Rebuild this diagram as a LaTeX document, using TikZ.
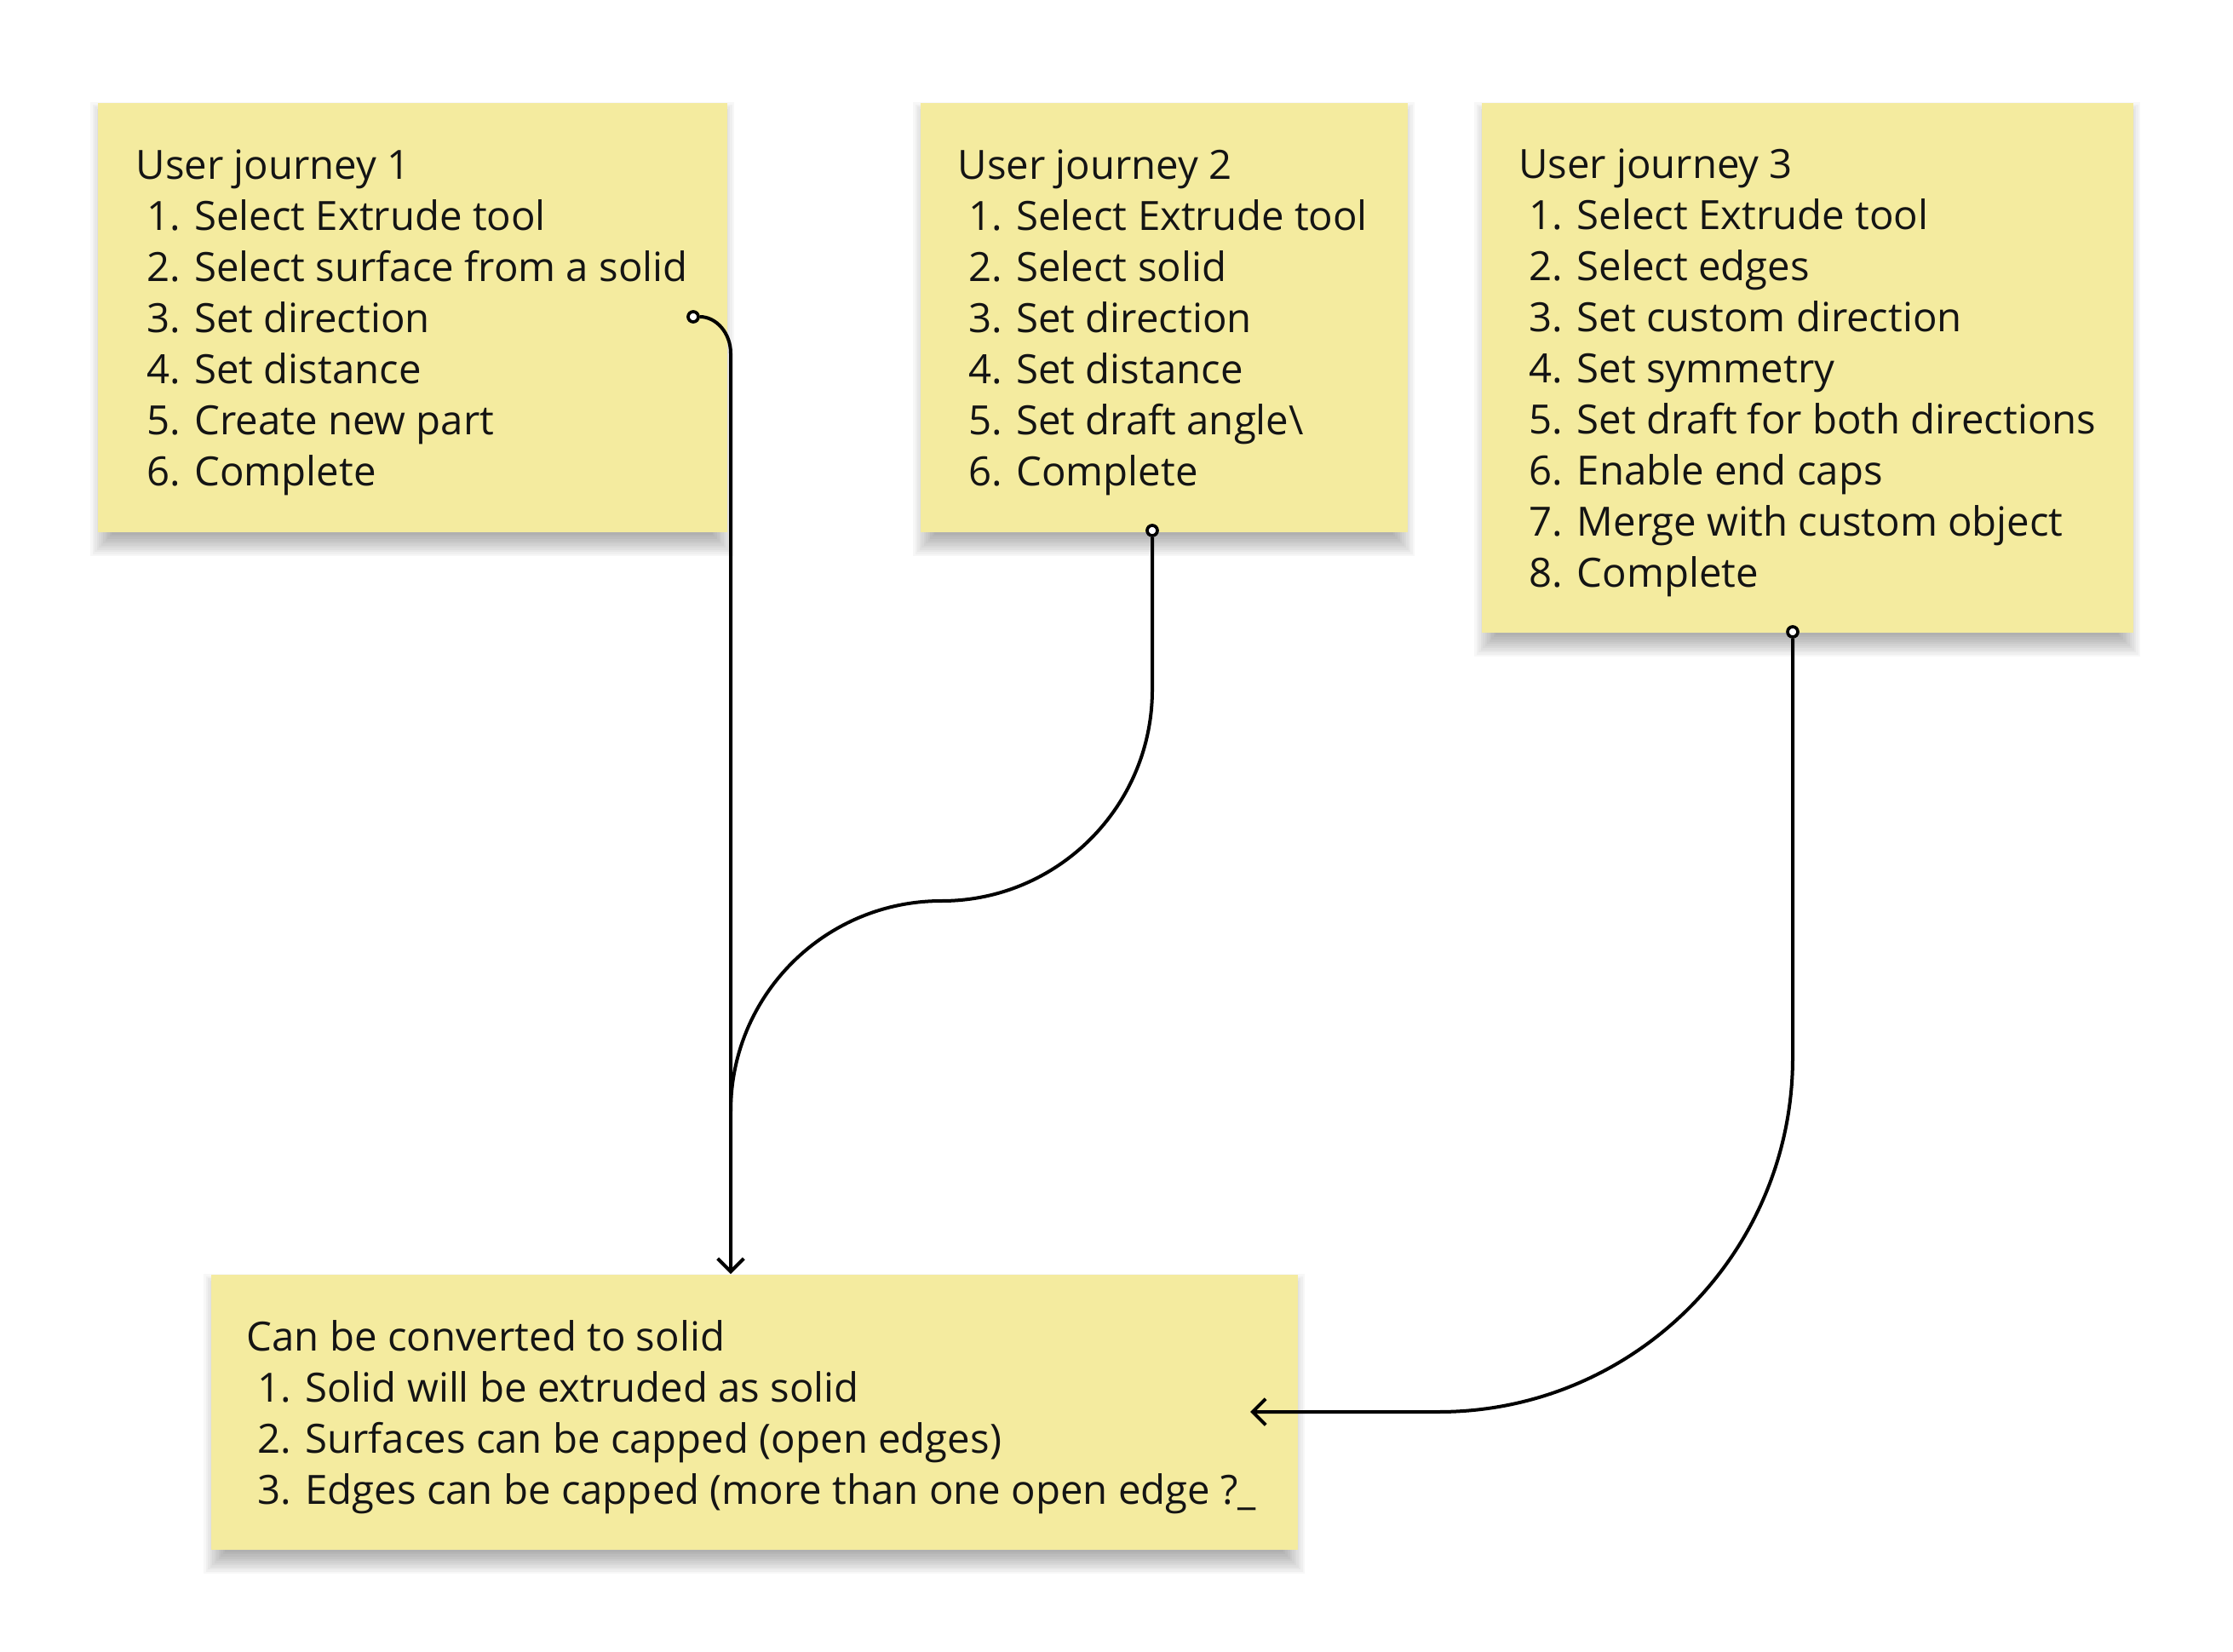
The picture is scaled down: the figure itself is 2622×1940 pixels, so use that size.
\documentclass[tikz,border=0pt]{standalone}
\usepackage{fontspec}
\setmainfont{Open Sans}
\usetikzlibrary{arrows.meta}
\definecolor{stickyY}{HTML}{F4EB9F}
\definecolor{inkC}{HTML}{141414}
\newcommand\itemind{\hspace*{3.8pt}}
\pgfdeclarelayer{paper}
\pgfdeclarelayer{shade}
\pgfsetlayers{paper,shade,main}
\newcommand\stickyshadow[1]{%
  \foreach \k in {0,...,11}{%
    \pgfmathsetmacro\ee{-4.2+\k*0.7636}%
    \fill[black, fill opacity=0.03]
      ([xshift={1.8pt-(\ee)*1pt}, yshift={-4.2pt+(\ee)*1pt}]#1.north west)
      rectangle ([xshift={-1.8pt+(\ee)*1pt}, yshift={-4.2pt-(\ee)*1pt}]#1.south east);
  }}
\begin{document}
\begin{tikzpicture}[x=0.3pt,y=-0.3pt,
  sticky/.style={fill=stickyY, draw=none, anchor=north west, inner sep=0pt},
  stxt/.style={anchor=west, align=left, inner sep=0pt, text=inkC,
    font=\fontsize{14.2pt}{18pt}\selectfont},
  port/.style={circle, draw=black, fill=white, line width=1.1pt, minimum size=3.6pt, inner sep=0pt},
  conn/.style={draw=black, line width=1.2pt},
  tipd/.style={-{Straight Barb[length=4.6pt,width=9.2pt]}}
]
\begin{pgfonlayer}{paper}
\fill[white] (0,0) rectangle (2622,1940);
\end{pgfonlayer}
\useasboundingbox (0,0) rectangle (2622,1940);

% sticky notes
\node[sticky, minimum width=221.7pt, minimum height=151.2pt] (s1) at (114,120) {};
\node[sticky, minimum width=171.6pt, minimum height=151.2pt] (s2) at (1080,120) {};
\node[sticky, minimum width=229.5pt, minimum height=186.6pt] (s3) at (1739,120) {};
\node[sticky, minimum width=382.8pt, minimum height=96.9pt] (s4) at (247,1496) {};

\begin{pgfonlayer}{shade}
\stickyshadow{s1}
\stickyshadow{s2}
\stickyshadow{s3}
\stickyshadow{s4}
\end{pgfonlayer}

% texts
\node[stxt] (t1) at ([xshift=13.5pt, yshift=-1.8pt]s1.west) {User journey 1\\
\itemind 1. Select Extrude tool\\
\itemind 2. Select surface from a solid\\
\itemind 3. Set direction\\
\itemind 4. Set distance\\
\itemind 5. Create new part\\
\itemind 6. Complete};
\node[stxt] (t2) at ([xshift=13.2pt, yshift=-1.8pt]s2.west) {User journey 2\\
\itemind 1. Select Extrude tool\\
\itemind 2. Select solid\\
\itemind 3. Set direction\\
\itemind 4. Set distance\\
\itemind 5. Set draft angle\textbackslash\\
\itemind 6. Complete};
\node[stxt] (t3) at ([xshift=13pt, yshift=-1.8pt]s3.west) {User journey 3\\
\itemind 1. Select Extrude tool\\
\itemind 2. Select edges\\
\itemind 3. Set custom direction\\
\itemind 4. Set symmetry\\
\itemind 5. Set draft for both directions\\
\itemind 6. Enable end caps\\
\itemind 7. Merge with custom object\\
\itemind 8. Complete};
\node[stxt] (t4) at ([xshift=12.6pt, yshift=-1.8pt]s4.west) {Can be converted to solid\\
\itemind 1. Solid will be extruded as solid\\
\itemind 2. Surfaces can be capped (open edges)\\
\itemind 3. Edges can be capped (more than one open edge ?\_};

% ports
\node[port] (p1) at (814,372) {};
\node[port] (p2) at (1353,623) {};
\node[port] (p3) at (2105,742) {};

% junction / end coordinates
\coordinate (j1) at (858,415);
\coordinate (j2) at (858,1305);
\coordinate (m2) at (1105.5,1058);
\coordinate (v2) at (1353,810);
\coordinate (v3) at (2105,1242);
\coordinate (h3) at (1689,1658);
\coordinate (a3) at (1468,1658);

% connectors
\draw[conn, tipd] (p1.east) .. controls (841,372) and (858,391) .. (j1) -- (j1 |- s4.north);
\draw[conn] (p2.south) -- (v2) .. controls (1353,946.7) and (1242.2,1058) .. (m2)
  .. controls (968.8,1058) and (858,1168.3) .. (j2);
\draw[conn, tipd] (p3.south) -- (v3) .. controls (2105,1471.8) and (1918.8,1658) .. (h3) -- (a3);
\end{tikzpicture}
\end{document}
